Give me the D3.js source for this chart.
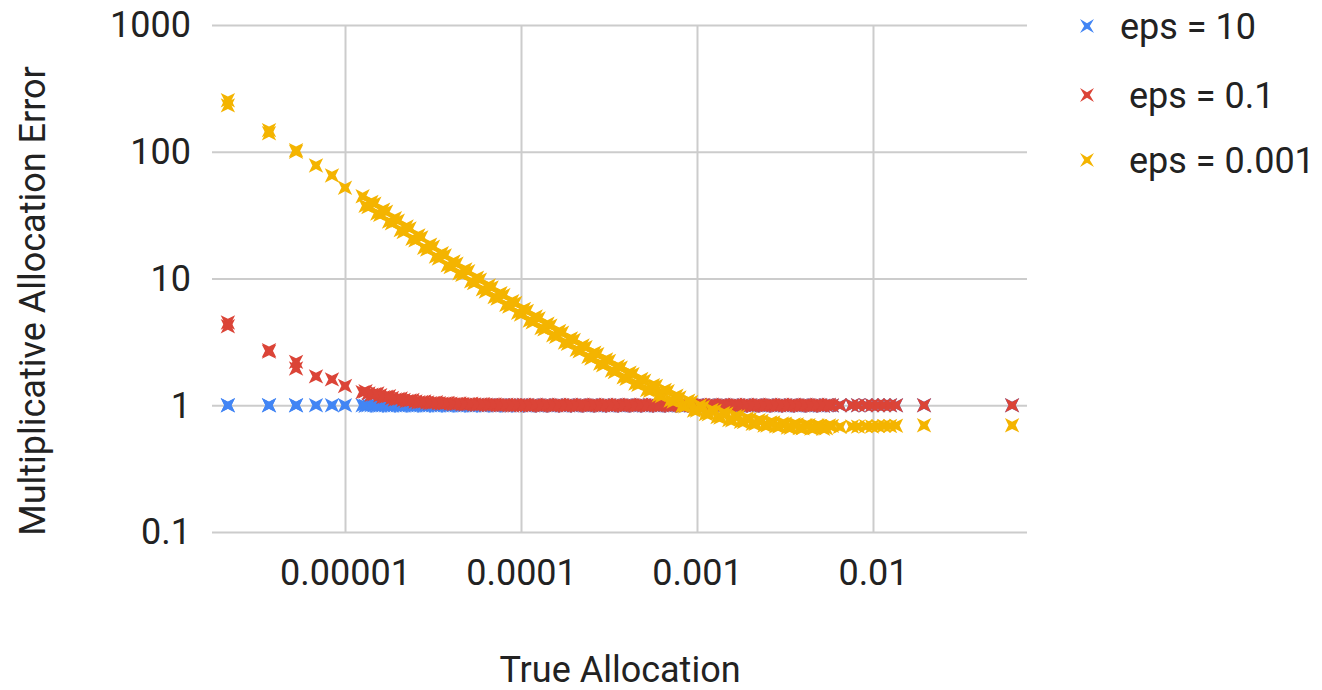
<!DOCTYPE html>
<html>
<head>
<meta charset="utf-8">
<script src="https://cdn.jsdelivr.net/npm/d3@7"></script>
<style>
  body { margin: 0; background: #ffffff; }
  text { font-family: Roboto, "Noto Sans", sans-serif; }
</style>
</head>
<body>
<svg id="chart" width="1322" height="690"></svg>
<script>
// ---- Data ----
const trueAllocation = [
  // sparse low allocations
  2.16e-6, 2.16e-6, 3.70e-6, 3.70e-6, 5.27e-6, 5.27e-6, 6.84e-6, 8.43e-6, 1.0e-5,
  // dense band, first pass
  1.259e-5, 1.359e-5, 1.468e-5, 1.585e-5, 1.711e-5, 1.848e-5, 1.995e-5, 2.154e-5, 2.326e-5,
  2.512e-5, 2.712e-5, 2.929e-5, 3.162e-5, 3.415e-5, 3.687e-5, 3.981e-5, 4.299e-5, 4.642e-5,
  5.012e-5, 5.412e-5, 5.843e-5, 6.310e-5, 6.813e-5, 7.356e-5, 7.943e-5, 8.577e-5, 9.261e-5,
  1.000e-4, 1.080e-4, 1.166e-4, 1.259e-4, 1.359e-4, 1.468e-4, 1.585e-4, 1.711e-4, 1.848e-4, 1.995e-4,
  2.154e-4, 2.326e-4, 2.512e-4, 2.712e-4, 2.929e-4, 3.162e-4, 3.415e-4, 3.687e-4, 3.981e-4, 4.299e-4,
  4.642e-4, 5.012e-4, 5.412e-4, 5.843e-4, 6.310e-4, 6.813e-4, 7.356e-4, 7.943e-4, 8.577e-4, 9.261e-4,
  1.000e-3, 1.080e-3, 1.166e-3, 1.259e-3, 1.359e-3, 1.468e-3, 1.585e-3, 1.711e-3, 1.848e-3, 1.995e-3,
  2.154e-3, 2.326e-3, 2.512e-3, 2.712e-3, 2.929e-3, 3.162e-3, 3.415e-3, 3.687e-3, 3.981e-3, 4.299e-3,
  4.642e-3, 5.012e-3, 5.412e-3, 5.843e-3,
  // sparse high allocations
  6.49e-3, 7.60e-3, 8.22e-3, 9.12e-3, 9.87e-3, 1.067e-2, 1.155e-2, 1.25e-2, 1.352e-2, 1.95e-2, 6.17e-2,
  // dense band, second pass
  1.308e-5, 1.413e-5, 1.525e-5, 1.647e-5, 1.778e-5, 1.920e-5, 2.073e-5, 2.239e-5, 2.417e-5,
  2.610e-5, 2.818e-5, 3.043e-5, 3.286e-5, 3.548e-5, 3.831e-5, 4.137e-5, 4.467e-5, 4.823e-5,
  5.208e-5, 5.623e-5, 6.072e-5, 6.556e-5, 7.079e-5, 7.640e-5, 8.254e-5, 8.913e-5, 9.624e-5,
  1.039e-4, 1.122e-4, 1.212e-4, 1.308e-4, 1.413e-4, 1.525e-4, 1.647e-4, 1.778e-4, 1.920e-4, 2.073e-4,
  2.239e-4, 2.417e-4, 2.610e-4, 2.818e-4, 3.043e-4, 3.286e-4, 3.548e-4, 3.831e-4, 4.137e-4, 4.467e-4,
  4.823e-4, 5.208e-4, 5.623e-4, 6.072e-4, 6.556e-4, 7.079e-4, 7.640e-4, 8.254e-4, 8.913e-4, 9.624e-4,
  1.039e-3, 1.122e-3, 1.212e-3, 1.308e-3, 1.413e-3, 1.525e-3, 1.647e-3, 1.778e-3, 1.920e-3, 2.073e-3,
  2.239e-3, 2.417e-3, 2.610e-3, 2.818e-3, 3.043e-3, 3.286e-3, 3.548e-3, 3.831e-3, 4.137e-3, 4.467e-3,
  4.823e-3, 5.208e-3, 5.623e-3
];

const errorEps10 = [
  1.0, 1.0, 1.0, 1.0, 1.0, 1.0, 1.0, 1.0, 1.0,
  1.0, 1.0, 1.0, 0.995, 1.0, 0.995, 1.0, 0.995, 1.0, 0.995, 1.0, 0.995, 1.0, 0.995,
  1.0, 0.995, 1.0, 0.995, 1.0, 0.995, 1.0, 0.995, 1.0, 0.995, 1.0, 0.995, 1.0,
  1.0, 0.995, 1.0, 0.995, 1.0, 0.995, 1.0, 0.995, 1.0, 0.995,
  1.0, 0.995, 1.0, 0.995, 1.0, 0.995, 1.0, 0.995, 1.0, 0.995,
  1.0, 0.995, 1.0, 0.995, 1.0, 0.995, 1.0, 0.995, 1.0, 0.995,
  1.0, 0.995, 1.0, 0.995, 1.0, 0.995, 1.0, 0.995, 1.0, 0.995,
  1.0, 0.995, 1.0, 0.995, 1.0, 0.995, 1.0, 0.995, 1.0, 0.995,
  1.0, 0.995, 1.0, 0.995,
  1.0, 1.0, 1.0, 1.0, 1.0, 1.0, 1.0, 1.0, 1.0, 1.0, 1.0,
  0.99, 1.0, 0.99, 1.0, 0.99, 1.0, 0.99, 1.0, 0.99,
  1.0, 0.99, 1.0, 0.99, 1.0, 0.99, 1.0, 0.99, 1.0,
  0.99, 1.0, 0.99, 1.0, 0.99, 1.0, 0.99, 1.0, 0.99,
  1.0, 0.99, 1.0, 0.99, 1.0, 0.99, 1.0, 0.99, 1.0, 0.99,
  1.0, 0.99, 1.0, 0.99, 1.0, 0.99, 1.0, 0.99, 1.0, 0.99,
  1.0, 0.99, 1.0, 0.99, 1.0, 0.99, 1.0, 0.99, 1.0, 0.99,
  1.0, 0.99, 1.0, 0.99, 1.0, 0.99, 1.0, 0.99, 1.0, 0.99,
  1.0, 0.99, 1.0, 0.99, 1.0, 0.99, 1.0, 0.99, 1.0, 0.99,
  1.0, 0.99, 1.0
];

const errorEps01 = [
  4.5, 4.2, 2.72, 2.65, 2.2, 1.95, 1.69, 1.6, 1.42,
  1.27, 1.24, 1.22, 1.2, 1.17, 1.14, 1.12, 1.1, 1.09, 1.07, 1.06, 1.05, 1.045, 1.04,
  1.035, 1.03, 1.025, 1.02, 1.02, 1.015, 1.015, 1.01, 1.01, 1.005, 1.005, 1.0, 1.0,
  1.0, 1.004, 0.998, 1.0, 1.003, 0.997, 1.0, 1.002, 0.998, 1.0,
  1.003, 0.997, 1.0, 1.002, 0.998, 1.0, 1.003, 0.997, 1.0, 1.002,
  0.998, 1.0, 1.003, 0.997, 1.0, 1.002, 0.998, 1.0, 1.003, 0.997,
  1.0, 1.004, 0.998, 1.0, 1.003, 0.997, 1.0, 1.002, 0.998, 1.0,
  1.003, 0.997, 1.0, 1.002, 0.998, 1.0, 1.003, 0.997, 1.0, 1.002,
  0.998, 1.0, 1.003, 0.997,
  1.0, 1.0, 1.0, 1.0, 1.0, 1.0, 1.0, 1.0, 1.0, 1.0, 1.0,
  1.29, 1.21, 1.24, 1.16, 1.18, 1.11, 1.13, 1.08, 1.1,
  1.055, 1.07, 1.04, 1.055, 1.03, 1.045, 1.02, 1.035, 1.012,
  1.028, 1.008, 1.02, 1.005, 1.015, 1.0, 1.01, 0.995, 1.005,
  1.008, 0.992, 1.008, 0.992, 1.008, 0.992, 1.008, 0.992, 1.008, 0.992,
  1.008, 0.992, 1.008, 0.992, 1.008, 0.992, 1.008, 0.992, 1.008, 0.992,
  1.008, 0.992, 1.008, 0.992, 1.008, 0.992, 1.008, 0.992, 1.008, 0.992,
  1.008, 0.992, 1.008, 0.992, 1.008, 0.992, 1.008, 0.992, 1.008, 0.992,
  1.008, 0.992, 1.008, 0.992, 1.008, 0.992, 1.008, 0.992, 1.008, 0.992,
  1.008, 0.992, 1.008
];

const errorEps0001 = [
  255, 232, 148, 140, 103, 100, 78, 65, 52,
  44.5, 36.6, 38.9, 31.8, 33.6, 27.3, 28.6, 23.3, 24.8, 20.0, 21.1, 16.9, 17.8, 14.4,
  15.2, 12.3, 13.1, 10.7, 11.4, 9.2, 9.8, 7.9, 8.5, 6.95, 7.4, 6.0, 6.4,
  5.20, 5.55, 4.52, 4.85, 3.97, 4.25, 3.47, 3.73, 3.05, 3.27,
  2.67, 2.87, 2.34, 2.53, 2.07, 2.24, 1.83, 1.98, 1.62, 1.76,
  1.45, 1.56, 1.30, 1.42, 1.18, 1.29, 1.07, 1.15, 0.98, 1.06,
  0.910, 0.968, 0.850, 0.902, 0.800, 0.856, 0.760, 0.815, 0.738, 0.777,
  0.714, 0.752, 0.693, 0.731, 0.678, 0.715, 0.665, 0.706, 0.658, 0.697,
  0.660, 0.688, 0.659, 0.687,
  0.675, 0.68, 0.678, 0.683, 0.68, 0.685, 0.688, 0.686, 0.69, 0.695, 0.695,
  37.5, 40.2, 32.6, 34.9, 28.1, 29.9, 24.1, 25.7, 20.6,
  21.9, 17.5, 18.5, 14.9, 15.8, 12.7, 13.6, 11.0, 11.8,
  9.49, 10.15, 8.21, 8.80, 7.13, 7.66, 6.20, 6.63, 5.37,
  5.75, 4.66, 5.01, 4.07, 4.39, 3.57, 3.85, 3.13, 3.37, 2.74,
  2.96, 2.41, 2.60, 2.13, 2.30, 1.88, 2.03, 1.66, 1.81, 1.48,
  1.61, 1.32, 1.44, 1.20, 1.32, 1.09, 1.19, 0.986, 1.088, 0.907,
  0.995, 0.853, 0.920, 0.807, 0.868, 0.765, 0.818, 0.741, 0.787, 0.714,
  0.762, 0.693, 0.733, 0.683, 0.717, 0.668, 0.706, 0.661, 0.697, 0.655,
  0.693, 0.653, 0.693
];

const seriesNames = ["eps = 10", " eps = 0.1", " eps = 0.001"];
const seriesColors = ["#4285F4", "#DB4437", "#F4B400"];
const xTickValues = [1e-5, 1e-4, 1e-3, 1e-2];
const xTickLabels = ["0.00001", "0.0001", "0.001", "0.01"];
const yTickValues = [0.1, 1, 10, 100, 1000];
const yTickLabels = ["0.1", "1", "10", "100", "1000"];
const xTitle = "True Allocation";
const yTitle = "Multiplicative Allocation Error";

// ---- Chart ----
const svg = d3.select("#chart");
const plot = { left: 213, right: 1027, top: 25, bottom: 532 };
const textColor = "#222222";
const gridColor = "#cccccc";

const x = d3.scaleLog().domain([1.778e-6, 0.075]).range([plot.left, plot.right]);
const y = d3.scaleLog().domain([0.1, 1000]).range([plot.bottom, plot.top]);

// Y axis with gridlines
const yAxis = d3.axisLeft(y)
  .tickValues(yTickValues)
  .tickFormat((d, i) => yTickLabels[i])
  .tickSize(-(plot.right - plot.left + 1))
  .tickPadding(22);
const gy = svg.append("g").attr("transform", `translate(${plot.left},0)`).call(yAxis);
gy.select(".domain").remove();
gy.selectAll(".tick line").attr("stroke", gridColor).attr("stroke-width", 2).attr("x2", plot.right - plot.left).attr("x1", -1);
gy.selectAll(".tick text").attr("fill", textColor).attr("font-size", 36).attr("dy", "0.33em")
  .style("font-family", "Roboto, 'Noto Sans', sans-serif");

// X axis with gridlines
const xAxis = d3.axisBottom(x)
  .tickValues(xTickValues)
  .tickFormat((d, i) => xTickLabels[i])
  .tickSize(-(plot.bottom - plot.top))
  .tickPadding(27);
const gx = svg.append("g").attr("transform", `translate(0,${plot.bottom})`).call(xAxis);
gx.select(".domain").remove();
gx.selectAll(".tick line").attr("stroke", gridColor).attr("stroke-width", 2);
gx.selectAll(".tick text").attr("fill", textColor).attr("font-size", 36)
  .style("font-family", "Roboto, 'Noto Sans', sans-serif");

// Marker shape: 4-pointed x-star
function starPath(h, i) {
  return `M${h},${-h}L${i},0L${h},${h}L0,${i}L${-h},${h}L${-i},0L${-h},${-h}L0,${-i}Z`;
}

const seriesValues = [errorEps10, errorEps01, errorEps0001];
seriesValues.forEach((vals, s) => {
  const pts = trueAllocation.map((xv, i) => ({ x: xv, y: vals[i] }))
    .filter(d => d.y !== undefined);
  svg.append("g")
    .selectAll("path")
    .data(pts)
    .join("path")
    .attr("transform", d => `translate(${x(d.x)},${y(d.y)})`)
    .attr("d", starPath(7.2, 3.6))
    .attr("fill", seriesColors[s]);
});

// Legend
const legendY = [26, 95, 160];
const legend = svg.append("g");
seriesNames.forEach((name, s) => {
  legend.append("path")
    .attr("transform", `translate(1087,${legendY[s]})`)
    .attr("d", starPath(7, 2.8))
    .attr("fill", seriesColors[s]);
  legend.append("text")
    .attr("x", 1120)
    .attr("y", legendY[s])
    .attr("dy", "0.35em")
    .attr("font-size", 36)
    .attr("fill", textColor)
    .style("white-space", "pre")
    .text(name);
});

// Axis titles
svg.append("text")
  .attr("x", (plot.left + plot.right) / 2)
  .attr("y", 682)
  .attr("text-anchor", "middle")
  .attr("font-size", 36)
  .attr("fill", textColor)
  .text(xTitle);

svg.append("text")
  .attr("transform", "translate(45,301) rotate(-90)")
  .attr("text-anchor", "middle")
  .attr("font-size", 36)
  .attr("fill", textColor)
  .text(yTitle);
</script>
</body>
</html>
